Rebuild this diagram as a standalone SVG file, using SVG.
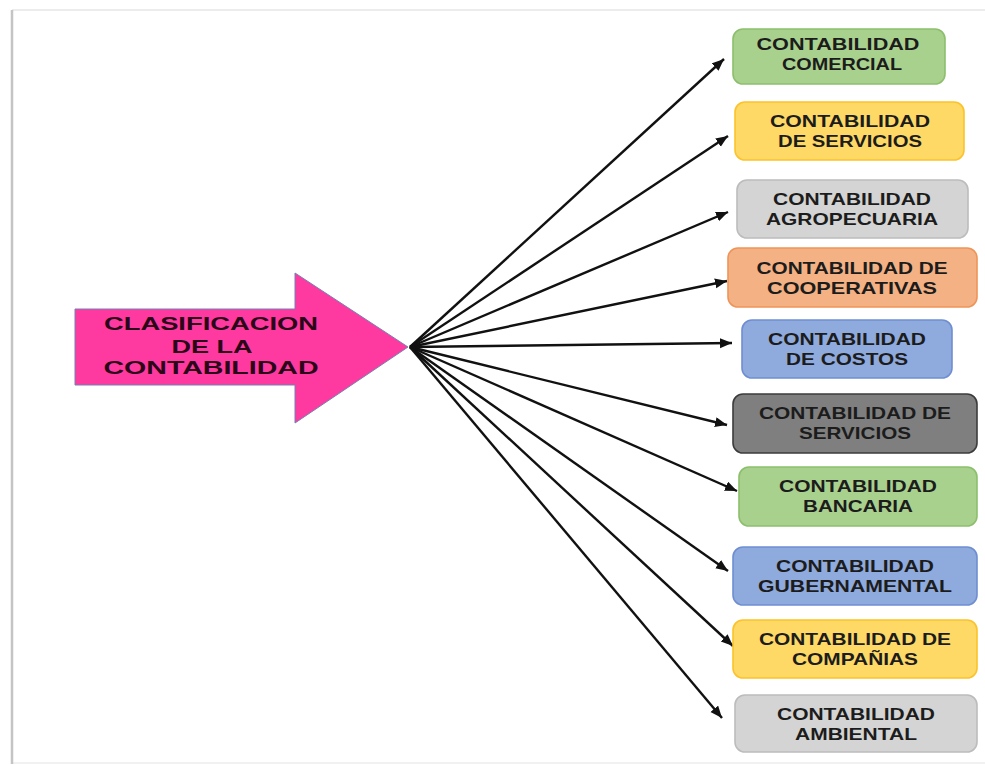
<svg xmlns="http://www.w3.org/2000/svg" width="985" height="765" viewBox="0 0 985 765">
  <style>
    .lbl { font-family: "Liberation Sans", Arial, sans-serif; font-weight: bold; font-size: 16.5px; fill: #1c1c1c; text-anchor: middle; }
    .main { font-family: "Liberation Sans", Arial, sans-serif; font-weight: bold; font-size: 19px; fill: #2a0618; text-anchor: middle; }
    .conn { stroke: #111; stroke-width: 2.4; fill: none; marker-end: url(#ah); }
    .box { stroke-width: 1.6; }
    .green { fill: #a9d18e; stroke: #8cbf6c; }
    .yellow { fill: #ffd966; stroke: #fcc22a; }
    .lgray { fill: #d4d4d4; stroke: #bcbcbc; }
    .orange { fill: #f4b183; stroke: #ef9459; }
    .blue { fill: #8faadc; stroke: #6f8ed2; }
    .dgray { fill: #7f7f7f; stroke: #3c3c3c; }
  </style>
  <defs>
    <marker id="ah" markerUnits="userSpaceOnUse" markerWidth="14" markerHeight="12" refX="12" refY="5" orient="auto">
      <path d="M0,0 L12,5 L0,10 z" fill="#111"/>
    </marker>
  </defs>
  <rect x="0" y="0" width="985" height="765" fill="#ffffff"/>
  <g id="frame">
    <line x1="12" y1="10" x2="985" y2="10" stroke="#e6e6e6" stroke-width="1.5"/>
    <line x1="12" y1="763" x2="985" y2="763" stroke="#ececec" stroke-width="1.5"/>
    <line x1="12" y1="10" x2="12" y2="764" stroke="#c4c4c4" stroke-width="2.5"/>
  </g>
  <g id="connectors">
    <line class="conn" x1="410" y1="347" x2="724" y2="59"/>
    <line class="conn" x1="410" y1="347" x2="728" y2="136"/>
    <line class="conn" x1="410" y1="347" x2="728" y2="212"/>
    <line class="conn" x1="410" y1="347" x2="727" y2="281"/>
    <line class="conn" x1="410" y1="347" x2="732" y2="343"/>
    <line class="conn" x1="410" y1="347" x2="727" y2="425"/>
    <line class="conn" x1="410" y1="347" x2="737" y2="491"/>
    <line class="conn" x1="410" y1="347" x2="728" y2="571"/>
    <line class="conn" x1="410" y1="347" x2="733" y2="646"/>
    <line class="conn" x1="410" y1="347" x2="722" y2="718"/>
  </g>
  <g id="clasificacion">
    <polygon points="75,309 295,309 295,273 408,347 295,423 295,385 75,385" fill="#fe3aa0" stroke="#7480b4" stroke-width="1"/>
    <text class="main" x="211" y="330" textLength="214" lengthAdjust="spacingAndGlyphs">CLASIFICACION</text>
    <text class="main" x="212" y="353" textLength="81" lengthAdjust="spacingAndGlyphs">DE LA</text>
    <text class="main" x="211" y="374" textLength="215" lengthAdjust="spacingAndGlyphs">CONTABILIDAD</text>
  </g>
  <g id="comercial">
    <rect class="box green" x="733" y="29" width="212" height="55" rx="10"/>
    <text class="lbl" x="838" y="50" textLength="163" lengthAdjust="spacingAndGlyphs">CONTABILIDAD</text>
    <text class="lbl" x="842" y="70" textLength="120" lengthAdjust="spacingAndGlyphs">COMERCIAL</text>
  </g>
  <g id="servicios1">
    <rect class="box yellow" x="735" y="102" width="229" height="58" rx="10"/>
    <text class="lbl" x="850" y="127" textLength="160" lengthAdjust="spacingAndGlyphs">CONTABILIDAD</text>
    <text class="lbl" x="850" y="147" textLength="144" lengthAdjust="spacingAndGlyphs">DE SERVICIOS</text>
  </g>
  <g id="agropecuaria">
    <rect class="box lgray" x="737" y="180" width="231" height="58" rx="10"/>
    <text class="lbl" x="852" y="205" textLength="158" lengthAdjust="spacingAndGlyphs">CONTABILIDAD</text>
    <text class="lbl" x="852" y="225" textLength="172" lengthAdjust="spacingAndGlyphs">AGROPECUARIA</text>
  </g>
  <g id="cooperativas">
    <rect class="box orange" x="728" y="248" width="249" height="59" rx="10"/>
    <text class="lbl" x="852" y="274" textLength="191" lengthAdjust="spacingAndGlyphs">CONTABILIDAD DE</text>
    <text class="lbl" x="852" y="294" textLength="170" lengthAdjust="spacingAndGlyphs">COOPERATIVAS</text>
  </g>
  <g id="costos">
    <rect class="box blue" x="742" y="320" width="210" height="58" rx="10"/>
    <text class="lbl" x="847" y="345" textLength="158" lengthAdjust="spacingAndGlyphs">CONTABILIDAD</text>
    <text class="lbl" x="847" y="365" textLength="122" lengthAdjust="spacingAndGlyphs">DE COSTOS</text>
  </g>
  <g id="servicios2">
    <rect class="box dgray" x="733" y="394" width="244" height="59" rx="10"/>
    <text class="lbl" x="855" y="419" textLength="192" lengthAdjust="spacingAndGlyphs">CONTABILIDAD DE</text>
    <text class="lbl" x="855" y="439" textLength="112" lengthAdjust="spacingAndGlyphs">SERVICIOS</text>
  </g>
  <g id="bancaria">
    <rect class="box green" x="739" y="467" width="238" height="59" rx="10"/>
    <text class="lbl" x="858" y="492" textLength="158" lengthAdjust="spacingAndGlyphs">CONTABILIDAD</text>
    <text class="lbl" x="858" y="512" textLength="110" lengthAdjust="spacingAndGlyphs">BANCARIA</text>
  </g>
  <g id="gubernamental">
    <rect class="box blue" x="733" y="547" width="244" height="58" rx="10"/>
    <text class="lbl" x="855" y="572" textLength="158" lengthAdjust="spacingAndGlyphs">CONTABILIDAD</text>
    <text class="lbl" x="855" y="592" textLength="194" lengthAdjust="spacingAndGlyphs">GUBERNAMENTAL</text>
  </g>
  <g id="companias">
    <rect class="box yellow" x="733" y="620" width="244" height="58" rx="10"/>
    <text class="lbl" x="855" y="645" textLength="192" lengthAdjust="spacingAndGlyphs">CONTABILIDAD DE</text>
    <text class="lbl" x="855" y="665" textLength="126" lengthAdjust="spacingAndGlyphs">COMPAÑIAS</text>
  </g>
  <g id="ambiental">
    <rect class="box lgray" x="735" y="695" width="242" height="57" rx="10"/>
    <text class="lbl" x="856" y="720" textLength="158" lengthAdjust="spacingAndGlyphs">CONTABILIDAD</text>
    <text class="lbl" x="856" y="740" textLength="122" lengthAdjust="spacingAndGlyphs">AMBIENTAL</text>
  </g>
</svg>
